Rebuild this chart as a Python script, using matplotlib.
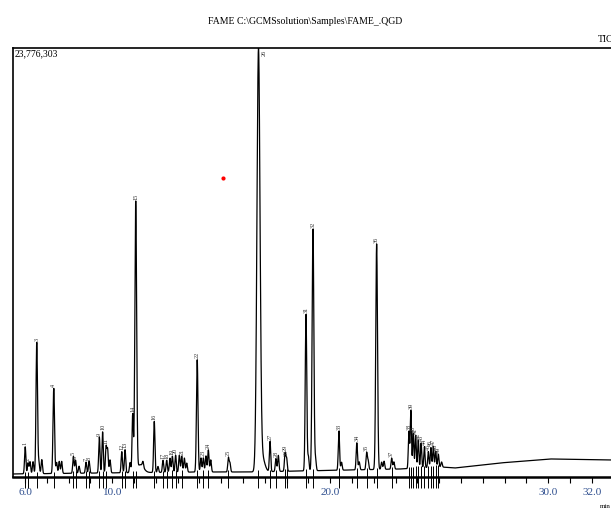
import numpy as np
import matplotlib.pyplot as plt

plt.rcParams['font.family'] = ['Liberation Serif', 'DejaVu Serif']

title = r'FAME C:\GCMSsolution\Samples\FAME_.QGD'
y_max = 23776303

# baseline drift (retention time min, counts)
base_t = [5.45, 9.44, 14.03, 16.32, 18.61, 23.2, 25.08, 25.72, 27.79, 30.08, 32.88]
base_i = [167000, 222000, 278000, 278000, 333000, 444000, 556000, 500000, 778000, 1000000, 944000]

# peaks: retention time, height above baseline, sigma, peak number
peak_t = [6.01, 6.14, 6.23, 6.37, 6.54, 6.64, 6.77, 7.32, 7.45, 7.57, 7.68,
          8.22, 8.32, 8.48, 8.80, 8.94, 9.41, 9.56, 9.72, 9.79, 9.90,
          10.44, 10.59, 10.82, 10.94, 11.08, 11.29, 11.41, 11.93, 12.10,
          12.33, 12.50, 12.65, 12.76, 12.91, 13.08, 13.19, 13.31, 13.42,
          13.90, 14.07, 14.18, 14.30, 14.41, 14.52, 15.33, 15.40,
          16.71, 16.87, 17.24, 17.51, 17.62, 17.93, 18.00,
          18.89, 19.00, 19.21, 19.33, 20.40, 20.52, 21.22, 21.33, 21.67, 21.74,
          22.13, 22.36, 22.47, 22.82, 22.92,
          23.61, 23.70, 23.81, 23.92, 24.04, 24.17, 24.32, 24.50, 24.62,
          24.73, 24.84, 24.96, 25.11]
peak_h = [1500000, 610000, 670000, 670000, 7280000, 610000, 780000, 4720000, 610000, 670000, 670000,
          940000, 720000, 390000, 610000, 670000, 2000000, 2280000, 1440000, 1280000, 720000,
          1170000, 1280000, 560000, 3220000, 14890000, 440000, 300000, 2830000, 330000,
          670000, 670000, 780000, 890000, 940000, 940000, 890000, 780000, 500000,
          6220000, 780000, 780000, 890000, 1220000, 670000, 780000, 500000,
          23150000, 830000, 1670000, 720000, 890000, 1000000, 720000,
          8670000, 780000, 13390000, 610000, 2170000, 440000, 1500000, 440000, 940000, 500000,
          12500000, 400000, 450000, 610000, 400000,
          2060000, 3220000, 1940000, 1830000, 1560000, 1390000, 1170000, 890000, 1110000,
          1170000, 890000, 720000, 280000]
peak_w = [0.03, 0.03, 0.03, 0.03, 0.035, 0.03, 0.03, 0.035, 0.03, 0.03, 0.03,
          0.03, 0.03, 0.03, 0.03, 0.03, 0.03, 0.03, 0.03, 0.03, 0.03,
          0.03, 0.03, 0.03, 0.03, 0.04, 0.15, 0.03, 0.03, 0.03,
          0.03, 0.03, 0.03, 0.03, 0.03, 0.03, 0.03, 0.03, 0.03,
          0.035, 0.03, 0.03, 0.03, 0.03, 0.03, 0.03, 0.03,
          0.07, 0.12, 0.03, 0.03, 0.03, 0.03, 0.03,
          0.035, 0.03, 0.04, 0.03, 0.03, 0.03, 0.03, 0.03, 0.03, 0.03,
          0.04, 0.03, 0.03, 0.03, 0.03,
          0.028, 0.028, 0.028, 0.028, 0.028, 0.028, 0.028, 0.028, 0.028,
          0.028, 0.028, 0.028, 0.03]
peak_id = ['1', '2', '', '', '3', '', '', '4', '', '', '',
           '5', '6', '', '7', '8', '9', '10', '11', '', '',
           '12', '13', '', '14', '15', '', '', '16', '',
           '17', '18', '', '19', '20', '', '21', '', '',
           '22', '', '23', '', '24', '', '25', '',
           '26', '', '27', '28', '', '29', '30',
           '31', '', '32', '', '33', '', '34', '', '35', '',
           '36', '', '', '37', '',
           '38', '39', '40', '41', '42', '43', '44', '45', '46',
           '47', '48', '49', '']

tick_pos = list(range(6, 33))
tick_text = {6: '6.0', 10: '10.0', 20: '20.0', 30: '30.0', 32: '32.0'}

# red marker point on the plot
dot_t, dot_i = 15.08, 16570000

t = np.arange(5.45, 32.9, 0.002)
signal = np.interp(t, base_t, base_i)
for pt, ph, pw in zip(peak_t, peak_h, peak_w):
    signal = signal + ph * np.exp(-0.5 * ((t - pt) / pw) ** 2)

fig = plt.figure(figsize=(6.11, 5.16), dpi=100)
ax = fig.add_axes([13 / 611, 39 / 516, 598 / 611, 429 / 516])
ax.plot(t, signal, color='black', lw=0.9)
ax.set_xlim(5.45, 32.88)
ax.set_ylim(0, y_max)

# peak numbers and integration marks
for pt, pid in zip(peak_t, peak_id):
    if not pid:
        continue
    top = signal[np.argmin(np.abs(t - pt))]
    if top > 0.95 * y_max:
        ax.text(pt + 0.25, y_max * 0.995, pid, rotation=90, fontsize=4.5,
                ha='center', va='top', color='#333333')
    else:
        ax.annotate(pid, (pt, top), xytext=(0, 1), textcoords='offset points',
                    rotation=90, fontsize=4.5, ha='center', va='bottom',
                    color='#333333')
    ax.vlines(pt, -0.62e6, np.interp(pt, base_t, base_i) + 0.1e6,
              color='black', lw=0.7, clip_on=False)

ax.plot([dot_t], [dot_i], 'o', color='red', ms=3, mec='none')

ax.spines['right'].set_visible(False)
ax.spines['top'].set_linewidth(1.2)
ax.spines['left'].set_linewidth(1.2)
ax.spines['bottom'].set_linewidth(1.8)
ax.set_yticks([])
ax.set_xticks(tick_pos)
ax.set_xticklabels([tick_text.get(p, '') for p in tick_pos], fontsize=8, color='#2f4f8f')
ax.tick_params(axis='x', direction='out', length=4, width=0.8, pad=4)

ax.text(0.002, 0.997, '23,776,303', transform=ax.transAxes, fontsize=7,
        ha='left', va='top')
fig.text(0.5, 1 - 22 / 516, title, fontsize=7, ha='center', va='center')
fig.text(598 / 611, 1 - 40 / 516, 'TIC', fontsize=7, ha='left', va='center')
fig.text(600 / 611, 1 - 507 / 516, 'min', fontsize=5, ha='left', va='center')

fig.savefig('out.png', dpi=100)
